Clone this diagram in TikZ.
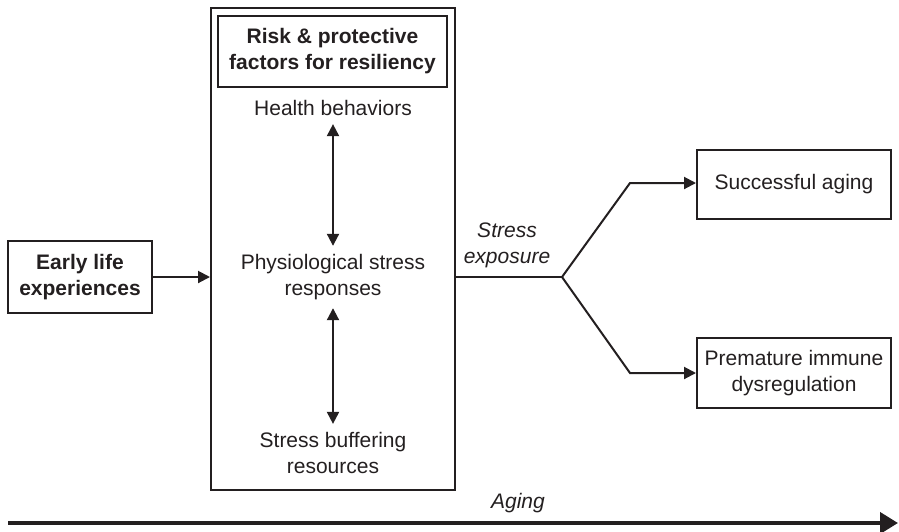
\documentclass[tikz,border=0pt]{standalone}
\usepackage{fontspec}
\setmainfont{Liberation Sans}
\usetikzlibrary{arrows.meta}
\definecolor{ink}{HTML}{231F20}

\begin{document}
\begin{tikzpicture}[x=0.5pt,y=-0.5pt,font=\fontsize{10.5}{13}\selectfont,color=ink,
  box/.style={draw,line width=1pt,align=center,inner sep=0pt},
  lbl/.style={align=center,inner sep=4pt},
  conn/.style={line width=1pt,-{Triangle[length=6pt,width=6pt]}},
  both/.style={line width=1pt,{Triangle[length=6pt,width=6pt]}-{Triangle[length=6pt,width=6pt]}}]
  \useasboundingbox (0,0) rectangle (899,531);
  % boxes
  \node[box,font=\fontsize{10.5}{13}\selectfont\bfseries,minimum width=72pt,minimum height=36pt] (early) at (80,277) {Early life\\experiences};
  \node[box,minimum width=122pt,minimum height=241pt] (factors) at (333,249) {};
  \node[box,font=\fontsize{10.5}{13}\selectfont\bfseries,minimum width=114.5pt,minimum height=35.5pt] (title) at (332.5,51.5) {Risk \& protective\\factors for resiliency};
  \node[box,minimum width=97pt,minimum height=34.5pt] (success) at (794,184.5) {Successful aging};
  \node[box,minimum width=97pt,minimum height=35pt] (immune) at (794,373) {Premature immune\\dysregulation};
  % inside the big box
  \node[lbl] (health) at (333,108) {Health behaviors};
  \node[lbl] (physio) at (333,277) {Physiological stress\\responses};
  \node[lbl] (buffer) at (333,453) {Stress buffering\\resources};
  \node[lbl,font=\fontsize{10.5}{13}\selectfont\itshape] (exposure) at (507,245) {Stress\\exposure};
  \node[lbl,font=\fontsize{10.5}{13}\selectfont\itshape] (aging) at (518,503) {Aging};
  % fork
  \coordinate (fork) at (562,277);
  \coordinate (up) at (630,183);
  \coordinate (down) at (630,373);
  \coordinate (agestart) at (8,523);
  \coordinate (ageend) at (898,523);

  \draw[conn] (early.east) -- (factors.west |- early.east);
  \draw[both] (health.south) -- (physio.north);
  \draw[both] (physio.south) -- (buffer.north);
  \draw[line width=1pt] (factors.east |- fork) -- (fork);
  \draw[conn] (fork) -- (up) -- (success.west |- up);
  \draw[conn] (fork) -- (down) -- (immune.west |- down);
  \draw[line width=2pt,-{Triangle[length=9pt,width=10.5pt]}] (agestart) -- (ageend);
\end{tikzpicture}
\end{document}
